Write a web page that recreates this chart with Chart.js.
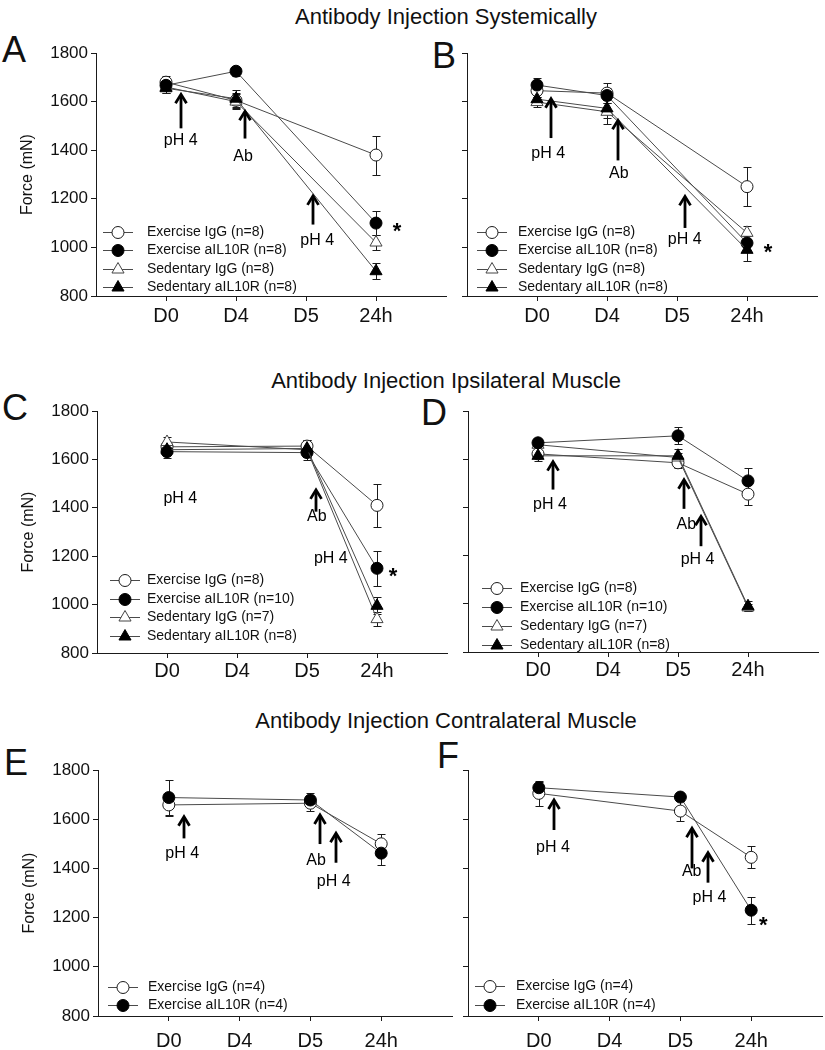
<!DOCTYPE html>
<html lang="en">
<head>
<meta charset="UTF-8">
<title>Force after pH 4 and antibody injection</title>
<script src="https://cdn.jsdelivr.net/npm/chart.js@4"></script>
<style>
  * { margin: 0; padding: 0; box-sizing: border-box; }
  html, body { width: 825px; height: 1050px; background: #fff; overflow: hidden; }
  body { position: relative; font-family: "Liberation Sans", Arial, sans-serif; color: #111; }
  canvas { position: absolute; }
  .title { position: absolute; left: 446px; transform: translateX(-50%); font-size: 22px; line-height: 22px; white-space: nowrap; }
  .letter { position: absolute; font-size: 36px; line-height: 36px; }
</style>
</head>
<body>
<div class="title" style="top:6px">Antibody Injection Systemically</div>
<div class="title" style="top:370px">Antibody Injection Ipsilateral Muscle</div>
<div class="title" style="top:710px">Antibody Injection Contralateral Muscle</div>
<div class="letter" style="left:2px;top:32px">A</div>
<div class="letter" style="left:432px;top:38px">B</div>
<div class="letter" style="left:2px;top:390px">C</div>
<div class="letter" style="left:421px;top:395px">D</div>
<div class="letter" style="left:4px;top:745px">E</div>
<div class="letter" style="left:437px;top:738px">F</div>

<script>
// time points on the x axis and force ticks
const categories = ['D0', 'D4', 'D5', '24h'];
const yTicks = [800, 1000, 1200, 1400, 1600, 1800];

// A: systemic injection (left)
const aExIgG = [1680, 1605, null, 1380];
const aExIgGErr = [25, 30, null, 80];
const aExAil = [1667, 1725, null, 1100];
const aExAilErr = [20, 18, null, 48];
const aSedIgG = [1660, 1600, null, 1020];
const aSedIgGErr = [25, 30, null, 30];
const aSedAil = [1655, 1612, null, 902];
const aSedAilErr = [20, 35, null, 32];

// B: systemic injection (right)
const bExIgG = [1645, 1635, null, 1250];
const bExIgGErr = [25, 40, null, 80];
const bExAil = [1668, 1625, null, 1018];
const bExAilErr = [30, 30, null, 30];
const bSedIgG = [1598, 1558, null, 1060];
const bSedIgGErr = [20, 50, null, 28];
const bSedAil = [1610, 1572, null, 990];
const bSedAilErr = [20, 40, null, 45];

// C: ipsilateral muscle (left)
const cExIgG = [1652, null, 1655, 1410];
const cExIgGErr = [20, null, 25, 90];
const cExAil = [1632, null, 1628, 1150];
const cExAilErr = [25, null, 30, 72];
const cSedIgG = [1672, null, 1640, 940];
const cSedIgGErr = [20, null, 30, 30];
const cSedAil = [1640, null, 1645, 995];
const cSedAilErr = [20, null, 35, 35];

// D: ipsilateral muscle (right)
const dExIgG = [1622, null, 1585, 1455];
const dExIgGErr = [15, null, 20, 45];
const dExAil = [1668, null, 1697, 1510];
const dExAilErr = [15, null, 35, 55];
const dSedIgG = [1660, null, 1607, 985];
const dSedIgGErr = [20, null, 20, 15];
const dSedAil = [1614, null, 1614, 990];
const dSedAilErr = [20, null, 30, 20];

// E: contralateral muscle (left)
const eExIgG = [1658, null, 1665, 1500];
const eExIgGErr = [45, null, 30, 40];
const eExAil = [1688, null, 1678, 1462];
const eExAilErr = [70, null, 28, 50];

// F: contralateral muscle (right)
const fExIgG = [1705, null, 1633, 1445];
const fExIgGErr = [50, null, 40, 45];
const fExAil = [1728, null, 1690, 1230];
const fExAilErr = [25, null, 10, 55];

Chart.defaults.font.family = '"Liberation Sans", Arial, sans-serif';
Chart.defaults.color = '#111';

const INK = '#1a1a1a';
const LINE = '#4a4a4a';
const STYLE = {
  exIgG:  { shape: 'circle',   fill: '#fff', stroke: INK, radius: 6, order: 4, label: 'Exercise IgG' },
  exAil:  { shape: 'circle',   fill: '#000', stroke: '#000', radius: 6, order: 2, label: 'Exercise aIL10R' },
  sedIgG: { shape: 'triangle', fill: '#fff', stroke: '#444', radius: 7, order: 3, label: 'Sedentary IgG' },
  sedAil: { shape: 'triangle', fill: '#000', stroke: '#000', radius: 7, order: 1, label: 'Sedentary aIL10R' }
};

function drawMarker(ctx, st, x, y) {
  const r = st.radius;
  ctx.beginPath();
  if (st.shape === 'circle') {
    ctx.arc(x, y, r, 0, Math.PI * 2);
  } else {
    ctx.moveTo(x, y - r);
    ctx.lineTo(x + r * 0.866, y + r * 0.5);
    ctx.lineTo(x - r * 0.866, y + r * 0.5);
    ctx.closePath();
  }
  ctx.fillStyle = st.fill;
  ctx.fill();
  ctx.lineWidth = 1;
  ctx.strokeStyle = st.stroke;
  ctx.stroke();
}

function drawArrow(ctx, x, yTip, yBase) {
  ctx.strokeStyle = '#000';
  ctx.lineWidth = 2.8;
  ctx.beginPath();
  ctx.moveTo(x, yBase);
  ctx.lineTo(x, yTip + 2);
  ctx.stroke();
  ctx.beginPath();
  ctx.moveTo(x - 5.5, yTip + 9);
  ctx.lineTo(x, yTip);
  ctx.lineTo(x + 5.5, yTip + 9);
  ctx.stroke();
}

const errorBars = {
  id: 'errorBars',
  beforeDatasetsDraw(chart) {
    const { ctx, scales: { x, y } } = chart;
    ctx.save();
    ctx.strokeStyle = INK;
    ctx.lineWidth = 1;
    chart.data.datasets.forEach(ds => {
      ds.means.forEach((v, i) => {
        const e = ds.errs[i];
        if (v === null || e === null) return;
        const px = Math.round(x.getPixelForValue(i + 1)) + 0.5;
        const top = Math.round(y.getPixelForValue(v + e)) + 0.5;
        const bot = Math.round(y.getPixelForValue(v - e)) + 0.5;
        ctx.beginPath();
        ctx.moveTo(px, top); ctx.lineTo(px, bot);
        ctx.moveTo(px - 4, top); ctx.lineTo(px + 4, top);
        ctx.moveTo(px - 4, bot); ctx.lineTo(px + 4, bot);
        ctx.stroke();
      });
    });
    ctx.restore();
  }
};

function makePanel(p) {
  const padTop = 15, padRight = 12;
  const canvas = document.createElement('canvas');
  canvas.width = p.yW + p.width + padRight;
  canvas.height = padTop + (p.bottom - p.top) + p.xH;
  canvas.style.left = (p.left - p.yW) + 'px';
  canvas.style.top = (p.top - padTop) + 'px';
  document.body.appendChild(canvas);

  const extras = {
    id: 'extras',
    afterDraw(chart) {
      const { ctx, chartArea, scales: { x, y } } = chart;
      ctx.save();
      p.arrows.forEach(a => drawArrow(ctx, Math.round(x.getPixelForValue(a.x)), y.getPixelForValue(a.tip), y.getPixelForValue(a.base)));
      ctx.fillStyle = '#000';
      ctx.font = '16px "Liberation Sans", Arial, sans-serif';
      ctx.textAlign = 'center';
      ctx.textBaseline = 'middle';
      p.notes.forEach(n => ctx.fillText(n.t, x.getPixelForValue(n.x), y.getPixelForValue(n.y)));
      ctx.font = 'bold 22px "Liberation Sans", Arial, sans-serif';
      ctx.textBaseline = 'alphabetic';
      p.stars.forEach(s => ctx.fillText('*', x.getPixelForValue(s.x), y.getPixelForValue(s.y) + 13));

      // legend inside the plot, bottom left
      const lg = p.legend;
      ctx.font = '14px "Liberation Sans", Arial, sans-serif';
      ctx.textAlign = 'left';
      ctx.textBaseline = 'middle';
      p.series.forEach((s, i) => {
        const st = STYLE[s.key];
        const cy = Math.round(chartArea.bottom + lg.y + i * lg.gap) + 0.5;
        const mx = chartArea.left + lg.mx;
        ctx.strokeStyle = LINE;
        ctx.lineWidth = 1;
        ctx.beginPath();
        ctx.moveTo(mx - 15, cy); ctx.lineTo(mx + 15, cy);
        ctx.stroke();
        drawMarker(ctx, st, mx, cy);
        ctx.fillStyle = '#111';
        ctx.fillText(st.label + ' (n=' + s.n + ')', chartArea.left + lg.tx, cy);
      });
      ctx.restore();
    }
  };

  new Chart(canvas, {
    type: 'line',
    data: {
      datasets: p.series.map(s => {
        const st = STYLE[s.key];
        return {
          label: st.label,
          data: s.values.map((v, i) => ({ x: i + 1, y: v })),
          means: s.values,
          errs: s.errs,
          order: st.order,
          spanGaps: true,
          borderColor: LINE,
          borderWidth: 1,
          pointStyle: st.shape,
          pointRadius: st.radius,
          pointBackgroundColor: st.fill,
          pointBorderColor: st.stroke,
          pointBorderWidth: 1,
          clip: false
        };
      })
    },
    options: {
      responsive: false,
      animation: false,
      events: [],
      layout: { padding: { top: padTop, right: padRight, left: 0, bottom: 0 } },
      plugins: { legend: { display: false }, tooltip: { enabled: false } },
      scales: {
        x: {
          type: 'linear', min: 0, max: 5,
          afterBuildTicks: s => { s.ticks = categories.map((c, i) => ({ value: i + 1 })); },
          afterFit: s => { s.height = p.xH; },
          ticks: { callback: v => categories[v - 1], font: { size: 20 }, color: '#111', padding: p.xPad, autoSkip: false, maxRotation: 0 },
          grid: { drawOnChartArea: false, drawTicks: true, tickLength: 5, color: INK },
          border: { display: true, color: INK, width: 1 }
        },
        y: {
          min: 800, max: 1800,
          afterBuildTicks: s => { s.ticks = yTicks.map(v => ({ value: v })); },
          afterFit: s => { s.width = p.yW; },
          ticks: { display: p.showY, callback: v => String(v), font: { size: 17 }, color: '#111', padding: 3 },
          grid: { drawOnChartArea: false, drawTicks: true, tickLength: 5, color: INK },
          border: { display: true, color: INK, width: 1 },
          title: { display: p.showY, text: 'Force (mN)', font: { size: 16 }, color: '#111', padding: { top: 18, bottom: 0 } }
        }
      }
    },
    plugins: [errorBars, extras]
  });
}

const fourSeries = (a, b, c, d, n) => [
  { key: 'exIgG', values: a[0], errs: a[1], n: n[0] },
  { key: 'exAil', values: b[0], errs: b[1], n: n[1] },
  { key: 'sedIgG', values: c[0], errs: c[1], n: n[2] },
  { key: 'sedAil', values: d[0], errs: d[1], n: n[3] }
];

makePanel({
  left: 96, top: 53, bottom: 296, width: 350, yW: 96, xH: 45, xPad: 3, showY: true,
  series: fourSeries([aExIgG, aExIgGErr], [aExAil, aExAilErr], [aSedIgG, aSedIgGErr], [aSedAil, aSedAilErr], [8, 8, 8, 8]),
  legend: { mx: 22, tx: 51, y: -64, gap: 18.4 },
  arrows: [{ x: 1.21, tip: 1630, base: 1490 }, { x: 2.13, tip: 1560, base: 1448 }, { x: 3.1, tip: 1212, base: 1094 }],
  notes: [{ t: 'pH 4', x: 1.21, y: 1441 }, { t: 'Ab', x: 2.1, y: 1373 }, { t: 'pH 4', x: 3.16, y: 1030 }],
  stars: [{ x: 4.3, y: 1092 }]
});

makePanel({
  left: 467, top: 53, bottom: 296, width: 350, yW: 20, xH: 45, xPad: 3, showY: false,
  series: fourSeries([bExIgG, bExIgGErr], [bExAil, bExAilErr], [bSedIgG, bSedIgGErr], [bSedAil, bSedAilErr], [8, 8, 8, 8]),
  legend: { mx: 25, tx: 51, y: -64, gap: 18.4 },
  arrows: [{ x: 1.2, tip: 1612, base: 1450 }, { x: 2.16, tip: 1523, base: 1358 }, { x: 3.11, tip: 1210, base: 1080 }],
  notes: [{ t: 'pH 4', x: 1.16, y: 1388 }, { t: 'Ab', x: 2.17, y: 1303 }, { t: 'pH 4', x: 3.11, y: 1032 }],
  stars: [{ x: 4.3, y: 1005 }]
});

makePanel({
  left: 97, top: 411, bottom: 653, width: 350, yW: 96, xH: 45, xPad: 1, showY: true,
  series: fourSeries([cExIgG, cExIgGErr], [cExAil, cExAilErr], [cSedIgG, cSedIgGErr], [cSedAil, cSedAilErr], [8, 10, 7, 8]),
  legend: { mx: 28, tx: 50, y: -73, gap: 18.6 },
  arrows: [{ x: 3.13, tip: 1474, base: 1384 }],
  notes: [{ t: 'pH 4', x: 1.19, y: 1439 }, { t: 'Ab', x: 3.14, y: 1363 }, { t: 'pH 4', x: 3.34, y: 1191 }],
  stars: [{ x: 4.23, y: 1143 }]
});

makePanel({
  left: 468, top: 411, bottom: 652, width: 350, yW: 20, xH: 45, xPad: 1, showY: false,
  series: fourSeries([dExIgG, dExIgGErr], [dExAil, dExAilErr], [dSedIgG, dSedIgGErr], [dSedAil, dSedAilErr], [8, 10, 7, 8]),
  legend: { mx: 29, tx: 52, y: -64, gap: 19 },
  arrows: [{ x: 1.21, tip: 1590, base: 1474 }, { x: 3.09, tip: 1515, base: 1394 }, { x: 3.33, tip: 1363, base: 1239 }],
  notes: [{ t: 'pH 4', x: 1.17, y: 1412 }, { t: 'Ab', x: 3.12, y: 1329 }, { t: 'pH 4', x: 3.28, y: 1184 }],
  stars: []
});

makePanel({
  left: 98, top: 770, bottom: 1016, width: 354, yW: 96, xH: 34, xPad: 8, showY: true,
  series: [
    { key: 'exIgG', values: eExIgG, errs: eExIgGErr, n: 4 },
    { key: 'exAil', values: eExAil, errs: eExAilErr, n: 4 }
  ],
  legend: { mx: 25, tx: 50, y: -29, gap: 18.4 },
  arrows: [{ x: 1.22, tip: 1610, base: 1522 }, { x: 3.14, tip: 1617, base: 1499 }, { x: 3.36, tip: 1543, base: 1423 }],
  notes: [{ t: 'pH 4', x: 1.19, y: 1459 }, { t: 'Ab', x: 3.08, y: 1431 }, { t: 'pH 4', x: 3.33, y: 1346 }],
  stars: []
});

makePanel({
  left: 468, top: 770, bottom: 1016, width: 354, yW: 20, xH: 34, xPad: 8, showY: false,
  series: [
    { key: 'exIgG', values: fExIgG, errs: fExIgGErr, n: 4 },
    { key: 'exAil', values: fExAil, errs: fExAilErr, n: 4 }
  ],
  legend: { mx: 22, tx: 48, y: -30, gap: 19 },
  arrows: [{ x: 1.21, tip: 1678, base: 1556 }, { x: 3.17, tip: 1563, base: 1400 }, { x: 3.39, tip: 1464, base: 1342 }],
  notes: [{ t: 'pH 4', x: 1.2, y: 1486 }, { t: 'Ab', x: 3.16, y: 1387 }, { t: 'pH 4', x: 3.41, y: 1283 }],
  stars: [{ x: 4.17, y: 1193 }]
});
</script>
</body>
</html>
